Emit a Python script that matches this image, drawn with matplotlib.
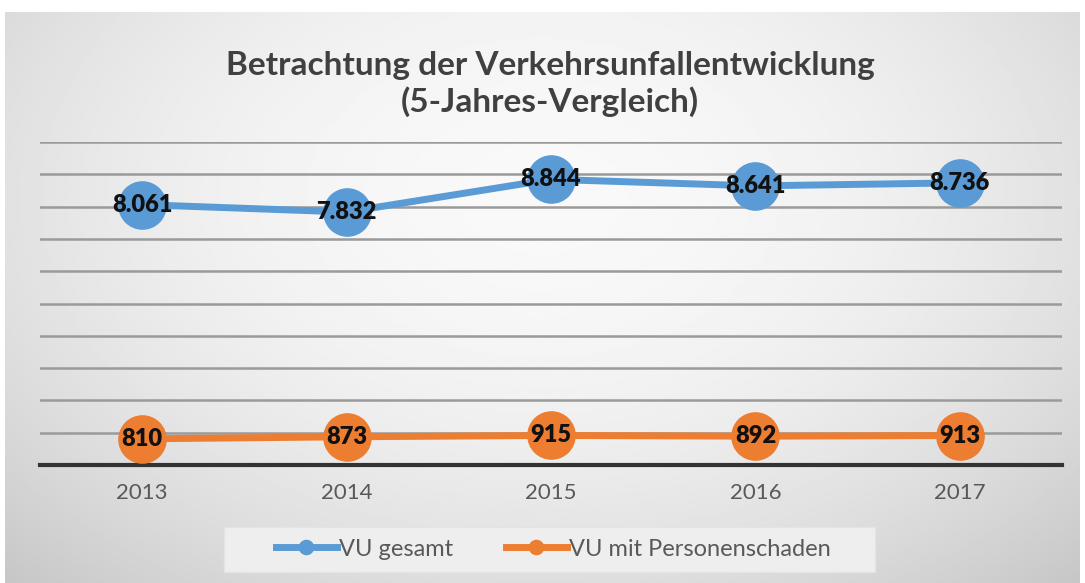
import matplotlib.pyplot as plt
import numpy as np
from matplotlib.patches import Rectangle

years = ["2013", "2014", "2015", "2016", "2017"]
vu_gesamt = [8061, 7832, 8844, 8641, 8736]
vu_personen = [810, 873, 915, 892, 913]
label_gesamt = ["8.061", "7.832", "8.844", "8.641", "8.736"]
label_personen = ["810", "873", "915", "892", "913"]

blue = "#5b9bd5"
orange = "#ed7d31"
font = ["Lato", "DejaVu Sans"]
plt.rcParams["font.family"] = font

fig = plt.figure(figsize=(10.85, 5.83), dpi=100)
fig.patch.set_facecolor("white")

# radial grey background of the chart area
bg = fig.add_axes([5 / 1085, 0, 1075 / 1085, 571 / 583], zorder=0)
gx, gy = np.meshgrid(np.linspace(-1, 1, 400), np.linspace(-1, 1, 220))
r = np.sqrt((gx * 0.95) ** 2 + ((gy + 0.35) * 0.75) ** 2)
shade = 0.975 - 0.2 * np.clip(r, 0, 1.4) ** 2 / 1.96
bg.imshow(shade, cmap="gray", vmin=0, vmax=1, aspect="auto", extent=[0, 1, 0, 1])
bg.set_axis_off()

ax = fig.add_axes([40 / 1085, 118 / 583, 1022 / 1085, 323 / 583], zorder=1)
ax.patch.set_alpha(0)
x = np.arange(len(years))

ax.plot(x, vu_gesamt, color=blue, lw=5, marker="o", ms=34, zorder=3, label="VU gesamt")
ax.plot(x, vu_personen, color=orange, lw=5, marker="o", ms=34, zorder=3,
        label="VU mit Personenschaden")

for xi, v, t in zip(x, vu_gesamt, label_gesamt):
    ax.text(xi, v, t, ha="center", va="center", fontsize=17, fontweight="heavy",
            color="#111111", zorder=4)
for xi, v, t in zip(x, vu_personen, label_personen):
    ax.text(xi, v, t, ha="center", va="center", fontsize=17, fontweight="heavy",
            color="#111111", zorder=4)

ax.set_xlim(-0.5, 4.5)
ax.set_ylim(0, 10000)
ax.set_yticks(np.arange(0, 10001, 1000))
ax.yaxis.grid(True, color="#9a9a9a", lw=1.8)
ax.set_axisbelow(True)
ax.tick_params(axis="y", left=False, labelleft=False)
ax.set_xticks(x)
ax.set_xticklabels(years, fontsize=16, color="#595959")
ax.tick_params(axis="x", length=0, pad=13)
for s in ["top", "right", "left"]:
    ax.spines[s].set_visible(False)
ax.spines["bottom"].set_color("#333333")
ax.spines["bottom"].set_linewidth(3)

fig.text(0.507, 0.888, "Betrachtung der Verkehrsunfallentwicklung", ha="center",
         va="center", fontsize=24, fontweight="bold", color="#404040")
fig.text(0.507, 0.826, "(5-Jahres-Vergleich)", ha="center", va="center",
         fontsize=24, fontweight="bold", color="#404040")

# legend box, wider than the entries like in the original
fig.patches.append(Rectangle((224 / 1085, 11 / 583), 651 / 1085, 45 / 583,
                             transform=fig.transFigure, facecolor="#eeeeee",
                             edgecolor="#e4e4e4", lw=1, zorder=1))
leg = fig.legend(loc="center", bbox_to_anchor=(0.51, 1 - 549 / 583), ncol=2,
                 fontsize=17, frameon=False, markerscale=0.3,
                 handlelength=2.6, handletextpad=0.1, columnspacing=2.2)
for t in leg.get_texts():
    t.set_color("#595959")

fig.savefig("out.png", dpi=100)
